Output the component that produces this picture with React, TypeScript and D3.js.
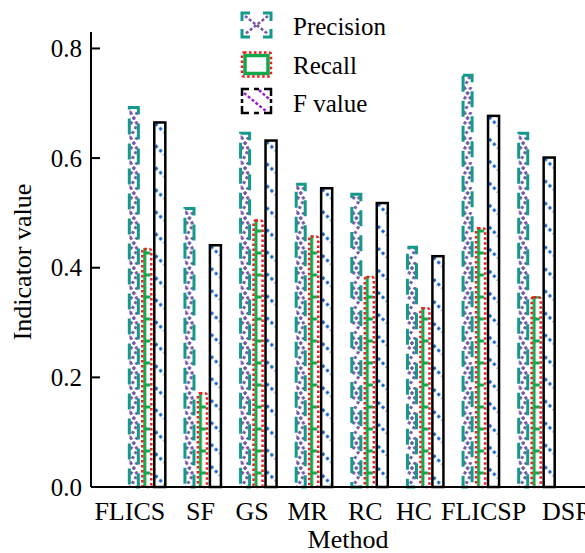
import React, { useEffect, useRef } from 'react';
import * as d3 from 'd3';

// Method names on the x axis
const methods = ['FLICS', 'SF', 'GS', 'MR', 'RC', 'HC', 'FLICSP', 'DSR'];
const seriesNames = ['Precision', 'Recall', 'F value'];

// Values
const precision = [0.694, 0.51, 0.647, 0.554, 0.536, 0.439, 0.753, 0.647];
const recall = [0.436, 0.173, 0.488, 0.459, 0.385, 0.328, 0.474, 0.348];
const fValue = [0.665, 0.441, 0.632, 0.545, 0.518, 0.421, 0.677, 0.601];

const yTicks = [0, 0.2, 0.4, 0.6, 0.8];

// label nudges so the long names don't collide (layout only)
const labelShift = [-17, -2, -6, -6, -4, -11, 3, 31];

const W = 585;
const H = 553;
const FONT = '"Liberation Serif", "Times New Roman", serif';

const App: React.FC = () => {
  const ref = useRef<SVGSVGElement>(null);

  useEffect(() => {
    if (!ref.current) return;
    const svg = d3.select(ref.current);
    svg.selectAll('*').remove();

    const margin = { left: 91, top: 32, bottom: 66 };
    const y0 = H - margin.bottom; // 487

    const y = d3.scaleLinear().domain([0, 0.83]).range([y0, margin.top]);

    const x = d3.scaleBand<string>()
      .domain(methods)
      .range([119, 564])
      .paddingInner(0)
      .paddingOuter(0);

    const xs = d3.scaleBand<string>()
      .domain(seriesNames)
      .range([x.bandwidth() / 2 - 18.5, x.bandwidth() / 2 + 18.5])
      .paddingInner(0.15);

    const bw = xs.bandwidth();
    const defs = svg.append('defs');

    const data = methods.map((m, i) => ({
      m, i, p: precision[i], r: recall[i], f: fValue[i],
    }));

    const g = svg.append('g');

    // Precision bars: teal dashed sides with purple dotted cross hatching
    data.forEach(d => {
      const bx = (x(d.m) || 0) + (xs('Precision') || 0);
      const top = y(d.p);
      const pat = defs.append('pattern')
        .attr('id', `pp${d.i}`)
        .attr('patternUnits', 'userSpaceOnUse')
        .attr('x', bx).attr('y', y0)
        .attr('width', bw).attr('height', 25);
      pat.append('path')
        .attr('d', `M2,0L${bw - 2},12.5L2,25M${bw - 2},0L2,12.5`)
        .attr('fill', 'none')
        .attr('stroke', '#7558a6')
        .attr('stroke-width', 3)
        .attr('stroke-dasharray', '3 2.5');
      g.append('rect')
        .attr('x', bx).attr('y', top)
        .attr('width', bw).attr('height', y0 - top)
        .attr('fill', `url(#pp${d.i})`);
      g.append('rect')
        .attr('x', bx + 1).attr('y', top + 1)
        .attr('width', bw - 2).attr('height', y0 - top - 1)
        .attr('fill', 'none')
        .attr('stroke', '#14998a')
        .attr('stroke-width', 3)
        .attr('stroke-dasharray', '16 9');
    });

    // Recall bars: red dotted outline, green comb inside
    data.forEach(d => {
      const bx = (x(d.m) || 0) + (xs('Recall') || 0);
      const top = y(d.r);
      const pat = defs.append('pattern')
        .attr('id', `rp${d.i}`)
        .attr('patternUnits', 'userSpaceOnUse')
        .attr('x', bx).attr('y', y0)
        .attr('width', bw).attr('height', 22);
      pat.append('path')
        .attr('d', `M3.5,0V22M3.5,8H${bw - 2}`)
        .attr('fill', 'none')
        .attr('stroke', '#12a94c')
        .attr('stroke-width', 3);
      g.append('rect')
        .attr('x', bx).attr('y', top)
        .attr('width', bw).attr('height', y0 - top)
        .attr('fill', `url(#rp${d.i})`);
      g.append('rect')
        .attr('x', bx + 1).attr('y', top + 1)
        .attr('width', bw - 2).attr('height', y0 - top - 1)
        .attr('rx', 2)
        .attr('fill', 'none')
        .attr('stroke', '#f01c1c')
        .attr('stroke-width', 2.5)
        .attr('stroke-dasharray', '2.5 2.5');
    });

    // F value bars: black outline with blue dotted diagonals
    data.forEach(d => {
      const bx = (x(d.m) || 0) + (xs('F value') || 0);
      const top = y(d.f);
      const pat = defs.append('pattern')
        .attr('id', `fp${d.i}`)
        .attr('patternUnits', 'userSpaceOnUse')
        .attr('x', bx).attr('y', top)
        .attr('width', bw).attr('height', 22);
      pat.append('path')
        .attr('d', `M1,1L${bw - 1},${bw - 1}`)
        .attr('fill', 'none')
        .attr('stroke', '#1160c0')
        .attr('stroke-width', 3)
        .attr('stroke-dasharray', '3 3');
      g.append('rect')
        .attr('x', bx).attr('y', top)
        .attr('width', bw).attr('height', y0 - top)
        .attr('fill', `url(#fp${d.i})`);
      g.append('rect')
        .attr('x', bx).attr('y', top)
        .attr('width', bw).attr('height', y0 - top)
        .attr('fill', 'none')
        .attr('stroke', '#000')
        .attr('stroke-width', 2.5);
    });

    // Axes
    svg.append('line')
      .attr('x1', margin.left).attr('x2', margin.left)
      .attr('y1', margin.top).attr('y2', y0)
      .attr('stroke', '#000').attr('stroke-width', 2);
    svg.append('line')
      .attr('x1', margin.left).attr('x2', W)
      .attr('y1', y0).attr('y2', y0)
      .attr('stroke', '#000').attr('stroke-width', 2);

    yTicks.forEach(t => {
      svg.append('line')
        .attr('x1', margin.left).attr('x2', margin.left + 9)
        .attr('y1', y(t)).attr('y2', y(t))
        .attr('stroke', '#000').attr('stroke-width', 2);
      svg.append('text')
        .attr('x', 82).attr('y', y(t))
        .attr('dy', '0.35em')
        .attr('text-anchor', 'end')
        .attr('font-family', FONT)
        .attr('font-size', 25)
        .text(t.toFixed(1));
    });

    methods.forEach((m, i) => {
      svg.append('text')
        .attr('x', (x(m) || 0) + x.bandwidth() / 2 + labelShift[i])
        .attr('y', 520)
        .attr('text-anchor', 'middle')
        .attr('font-family', FONT)
        .attr('font-size', 26)
        .text(m);
    });

    svg.append('text')
      .attr('x', 348).attr('y', 548)
      .attr('text-anchor', 'middle')
      .attr('font-family', FONT)
      .attr('font-size', 26)
      .text('Method');

    svg.append('text')
      .attr('transform', `translate(31,${262}) rotate(-90)`)
      .attr('text-anchor', 'middle')
      .attr('font-family', FONT)
      .attr('font-size', 26)
      .text('Indicator value');

    // Legend
    const lg = svg.append('g').attr('transform', 'translate(242,13)');
    const rowH = 37.5;
    const sw = 29, sh = 24;

    // Precision swatch
    const l0 = lg.append('g');
    l0.append('path')
      .attr('d', `M3,3L${sw - 3},${sh - 3}M${sw - 3},3L3,${sh - 3}`)
      .attr('stroke', '#7558a6').attr('stroke-width', 2.5)
      .attr('stroke-dasharray', '3 2');
    l0.append('path')
      .attr('d', `M0,8V0H8M${sw - 8},0H${sw}V8M${sw},${sh - 8}V${sh}H${sw - 8}M8,${sh}H0V${sh - 8}`)
      .attr('fill', 'none').attr('stroke', '#14998a').attr('stroke-width', 3);

    // Recall swatch
    const l1 = lg.append('g').attr('transform', `translate(0,${rowH + 2})`);
    l1.append('rect')
      .attr('x', 3).attr('y', 3).attr('width', sw - 6).attr('height', sh - 6)
      .attr('fill', 'none').attr('stroke', '#12a94c').attr('stroke-width', 3.5);
    l1.append('rect')
      .attr('width', sw).attr('height', sh).attr('rx', 2)
      .attr('fill', 'none').attr('stroke', '#f01c1c').attr('stroke-width', 2.5)
      .attr('stroke-dasharray', '2.5 2.5');

    // F value swatch
    const l2 = lg.append('g').attr('transform', `translate(0,${rowH * 2 + 1})`);
    l2.append('path')
      .attr('d', `M2,4L${sw - 4},${sh - 1}M${sw - 12},1L${sw - 1},${sh * 0.45}`)
      .attr('stroke', '#9a1fd0').attr('stroke-width', 2.5)
      .attr('stroke-dasharray', '3 2');
    l2.append('path')
      .attr('d', `M0,7V0H7M${sw - 7},0H${sw}V7M${sw},${sh - 7}V${sh}H${sw - 7}M7,${sh}H0V${sh - 7}M0,10V14M${sw},10V14M12,0H17M12,${sh}H17`)
      .attr('fill', 'none').attr('stroke', '#000').attr('stroke-width', 2.5);

    seriesNames.forEach((s, i) => {
      lg.append('text')
        .attr('x', 51).attr('y', 13 + i * rowH + (i === 0 ? 0 : 2))
        .attr('dy', '0.35em')
        .attr('font-family', FONT)
        .attr('font-size', 25)
        .text(s);
    });
  }, []);

  return (
    <svg
      ref={ref}
      width={W}
      height={H}
      style={{ position: 'absolute', left: 0, top: 0, background: '#fff' }}
    />
  );
};

export default App;
